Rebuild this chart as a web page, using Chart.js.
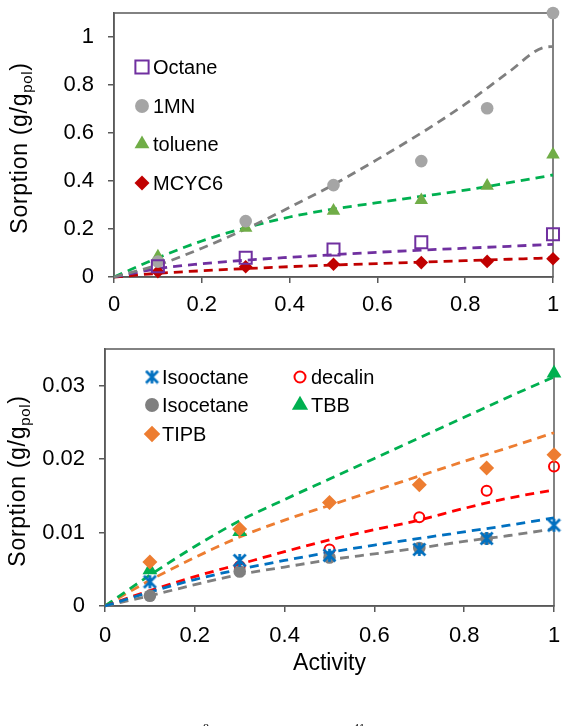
<!DOCTYPE html>
<html>
<head>
<meta charset="utf-8">
<script src="https://cdn.jsdelivr.net/npm/chart.js@4.4.1/dist/chart.umd.min.js"></script>
<style>
  html, body { margin: 0; padding: 0; background: #fff; }
  #wrap { position: relative; width: 571px; height: 726px; overflow: hidden; }
  canvas { position: absolute; left: 0; }
  #top { top: 0; }
  #bottom { top: 325px; }
  .cut { position: absolute; font: 12px "Liberation Serif", serif; color: #000; top: 721px; }
</style>
</head>
<body>
<div id="wrap">
  <canvas id="top" width="571" height="325"></canvas>
  <canvas id="bottom" width="571" height="401"></canvas>
  <span class="cut" style="left:203px">8</span>
  <span class="cut" style="left:353px">41</span>
</div>
<script>
// measured activities and fit grid
const activity = [0.1, 0.3, 0.5, 0.7, 0.85, 1];
const fitActivity = [0, 0.1, 0.2, 0.3, 0.4, 0.5, 0.6, 0.7, 0.8, 0.9, 1];
const mnFitActivity = [0, 0.1, 0.2, 0.3, 0.4, 0.5, 0.6, 0.7, 0.8, 0.9, 0.98, 1];

// top panel
const octane = [0.045, 0.08, 0.115, 0.145, null, 0.178];
const oneMN = [0.064, 0.233, 0.383, 0.483, 0.703, 1.10];
const toluene = [0.085, 0.205, 0.276, 0.32, 0.38, 0.51];
const mcyc6 = [0.022, 0.043, 0.053, 0.06, 0.065, 0.076];

const octaneFit = [0, 0.035, 0.055, 0.07, 0.082, 0.093, 0.103, 0.112, 0.12, 0.128, 0.136];
const oneMNFit = [0, 0.05, 0.12, 0.2, 0.29, 0.385, 0.49, 0.6, 0.72, 0.855, 0.957, 0.96];
const tolueneFit = [0, 0.08, 0.15, 0.205, 0.25, 0.283, 0.31, 0.336, 0.362, 0.393, 0.425];
const mcyc6Fit = [0, 0.015, 0.026, 0.035, 0.043, 0.05, 0.056, 0.062, 0.068, 0.074, 0.08];

// bottom panel
const isooctane = [0.0033, 0.0062, 0.0069, 0.0077, 0.0092, 0.011];
const isocetane = [0.0014, 0.0047, 0.0066, 0.0079, 0.0092, null];
const decalin = [null, 0.0054, 0.0077, 0.0121, 0.0157, 0.019];
const tbb = [0.0049, 0.0101, null, null, null, 0.0317];
const tipb = [0.006, 0.0105, 0.0141, 0.0165, 0.0188, 0.0206];

const isooctaneFit = [0, 0.0019, 0.0036, 0.005, 0.0062, 0.0073, 0.0083, 0.0092, 0.0101, 0.011, 0.012];
const isocetaneFit = [0, 0.0014, 0.0029, 0.0043, 0.0053, 0.0063, 0.0071, 0.0079, 0.0088, 0.0096, 0.0105];
const decalinFit = [0, 0.0021, 0.004, 0.0057, 0.0074, 0.009, 0.0104, 0.0117, 0.0133, 0.0147, 0.0158];
const tbbFit = [0, 0.0042, 0.0081, 0.0116, 0.0145, 0.0173, 0.0201, 0.0229, 0.0257, 0.0285, 0.0312];
const tipbFit = [0, 0.0035, 0.0066, 0.0094, 0.0117, 0.0137, 0.0157, 0.0177, 0.0197, 0.0216, 0.0236];

// tick labels
const xTicks = [0, 0.2, 0.4, 0.6, 0.8, 1];
const topYTicks = [0, 0.2, 0.4, 0.6, 0.8, 1];
const bottomYTicks = [0, 0.01, 0.02, 0.03];

const FONT = '"Liberation Sans", Arial, sans-serif';
const AXIS = '#595959';

function pts(xs, ys) {
    return xs.map((x, i) => ({ x: x, y: ys[i] })).filter(p => p.y !== null);
}

// excel style asterisk marker
function asterisk(color, size) {
    let c = document.createElement('canvas');
    c.width = size; c.height = size;
    let g = c.getContext('2d');
    g.strokeStyle = color;
    g.lineWidth = 2.7;
    let m = size / 2, r = size / 2 - 1.5;
    g.beginPath();
    g.moveTo(m, m - r - 0.5); g.lineTo(m, m + r + 0.5);
    g.moveTo(m - r, m - r); g.lineTo(m + r, m + r);
    g.moveTo(m + r, m - r); g.lineTo(m - r, m + r);
    g.stroke();
    return c;
}
const starImg = asterisk('#0070C0', 15);

function markers(label, data, style, radius, color, open) {
    return {
        label: label,
        data: data,
        pointStyle: style,
        pointRadius: radius,
        pointBackgroundColor: open ? 'rgba(0,0,0,0)' : color,
        pointBorderColor: color,
        pointBorderWidth: open ? 2 : 0,
        showLine: false,
        clip: false,
        order: 0
    };
}

function fit(xs, ys, color) {
    return {
        data: pts(xs, ys),
        showLine: true,
        pointRadius: 0,
        borderColor: color,
        borderWidth: 2.8,
        borderDash: [9, 6],
        tension: 0.4,
        cubicInterpolationMode: 'monotone',
        clip: false,
        order: 1
    };
}

function axisOpts(ticks, pad, extra) {
    return Object.assign({
        type: 'linear',
        afterBuildTicks: s => { s.ticks = ticks.map(v => ({ value: v })); },
        grid: { display: true, drawOnChartArea: false, drawTicks: true, tickLength: 6, color: AXIS, lineWidth: 1.5 },
        border: { display: true, color: AXIS, width: 1.5 },
        ticks: { color: '#000', font: { family: FONT, size: 22 }, padding: pad, maxRotation: 0, autoSkip: false, callback: v => String(v) }
    }, extra);
}

function fixSize(prop, val) {
    return s => {
        s[prop] = val;
        s.paddingTop = 0; s.paddingBottom = 0; s.paddingLeft = 0; s.paddingRight = 0;
    };
}

const framePlugin = {
    id: 'frame',
    beforeDatasetsDraw(chart) {
        let a = chart.chartArea, ctx = chart.ctx;
        ctx.save();
        ctx.strokeStyle = AXIS;
        ctx.lineWidth = 1.5;
        ctx.strokeRect(a.left, a.top, a.right - a.left, a.bottom - a.top);
        ctx.restore();
    }
};

function yTitlePlugin(baseX, centerY) {
    return {
        id: 'ytitle',
        afterDraw(chart) {
            let ctx = chart.ctx;
            let main = '23px ' + FONT, sub = '15px ' + FONT;
            ctx.save();
            ctx.translate(baseX, centerY);
            ctx.rotate(-Math.PI / 2);
            ctx.fillStyle = '#000';
            ctx.textBaseline = 'alphabetic';
            if ('letterSpacing' in ctx) ctx.letterSpacing = '0.7px';
            ctx.font = main;
            let w1 = ctx.measureText('Sorption (g/g').width, w3 = ctx.measureText(')').width;
            ctx.font = sub;
            let w2 = ctx.measureText('pol').width;
            let x = -(w1 + w2 + w3) / 2;
            ctx.font = main; ctx.fillText('Sorption (g/g', x, 0); x += w1;
            ctx.font = sub; ctx.fillText('pol', x, 5); x += w2;
            ctx.font = main; ctx.fillText(')', x, 0);
            ctx.restore();
        }
    };
}

// items: [datasetIndex, markerX, y, textX]
function legendPlugin(items) {
    return {
        id: 'innerLegend',
        afterDraw(chart) {
            let ctx = chart.ctx;
            items.forEach(it => {
                let ds = chart.data.datasets[it[0]];
                ctx.save();
                ctx.fillStyle = ds.pointBackgroundColor;
                ctx.strokeStyle = ds.pointBorderColor;
                ctx.lineWidth = ds.pointBorderWidth;
                Chart.helpers.drawPoint(ctx, {
                    pointStyle: ds.pointStyle, radius: ds.pointRadius * 1.1, rotation: 0, borderWidth: ds.pointBorderWidth
                }, it[1], it[2]);
                ctx.fillStyle = '#000';
                ctx.font = '20px ' + FONT;
                ctx.textBaseline = 'middle';
                ctx.fillText(ds.label, it[3], it[2] + 1);
                ctx.restore();
            });
        }
    };
}

$top = document.getElementById('top');
new Chart($top.getContext('2d'), {
    type: 'scatter',
    data: {
        datasets: [
            markers('Octane', pts(activity, octane), 'rect', 8.5, '#7030A0', true),
            markers('1MN', pts(activity, oneMN), 'circle', 6.3, '#A5A5A5', false),
            markers('toluene', pts(activity, toluene), 'triangle', 7.8, '#70AD47', false),
            markers('MCYC6', pts(activity, mcyc6), 'rectRot', 6.8, '#C00000', false),
            fit(mnFitActivity, oneMNFit, '#7F7F7F'),
            fit(fitActivity, tolueneFit, '#00B050'),
            fit(fitActivity, octaneFit, '#7030A0'),
            fit(fitActivity, mcyc6Fit, '#C00000')
        ]
    },
    options: {
        animation: false,
        responsive: false,
        layout: { padding: { left: 0, right: 18, top: 13, bottom: 0 } },
        plugins: { legend: { display: false }, tooltip: { enabled: false } },
        scales: {
            x: axisOpts(xTicks, 9, { min: 0, max: 1, afterFit: fixSize('height', 48) }),
            y: axisOpts(topYTicks, 14, { min: 0, max: 1.1, afterFit: fixSize('width', 114) })
        }
    },
    plugins: [framePlugin, yTitlePlugin(27, 148), legendPlugin([
        [0, 142, 67, 153], [1, 142, 106, 153], [2, 142, 144, 153], [3, 142, 183, 153]
    ])]
});

$bottom = document.getElementById('bottom');
new Chart($bottom.getContext('2d'), {
    type: 'scatter',
    data: {
        datasets: [
            markers('Isooctane', pts(activity, isooctane), starImg, 7, '#0070C0', false),
            markers('Isocetane', pts(activity, isocetane), 'circle', 6.3, '#7F7F7F', false),
            markers('TIPB', pts(activity, tipb), 'rectRot', 7.5, '#ED7D31', false),
            markers('decalin', pts(activity, decalin), 'circle', 5, '#FF0000', true),
            markers('TBB', pts(activity, tbb), 'triangle', 8.5, '#00B050', false),
            fit(fitActivity, isooctaneFit, '#0070C0'),
            fit(fitActivity, isocetaneFit, '#7F7F7F'),
            fit(fitActivity, decalinFit, '#FF0000'),
            fit(fitActivity, tbbFit, '#00B050'),
            fit(fitActivity, tipbFit, '#ED7D31')
        ]
    },
    options: {
        animation: false,
        responsive: false,
        layout: { padding: { left: 0, right: 17, top: 24, bottom: 0 } },
        plugins: { legend: { display: false }, tooltip: { enabled: false } },
        scales: {
            x: axisOpts(xTicks, 11, {
                min: 0, max: 1,
                afterFit: fixSize('height', 120),
                title: { display: true, text: 'Activity', color: '#000', font: { family: FONT, size: 23 }, padding: { top: 0, bottom: 49 } }
            }),
            y: axisOpts(bottomYTicks, 14, { min: 0, max: 0.035, afterFit: fixSize('width', 105) })
        }
    },
    plugins: [framePlugin, yTitlePlugin(25, 156), legendPlugin([
        [0, 152, 52, 162], [1, 152, 80, 162], [2, 152, 109, 162], [3, 300, 52, 311], [4, 300, 80, 311]
    ])]
});
</script>
</body>
</html>
